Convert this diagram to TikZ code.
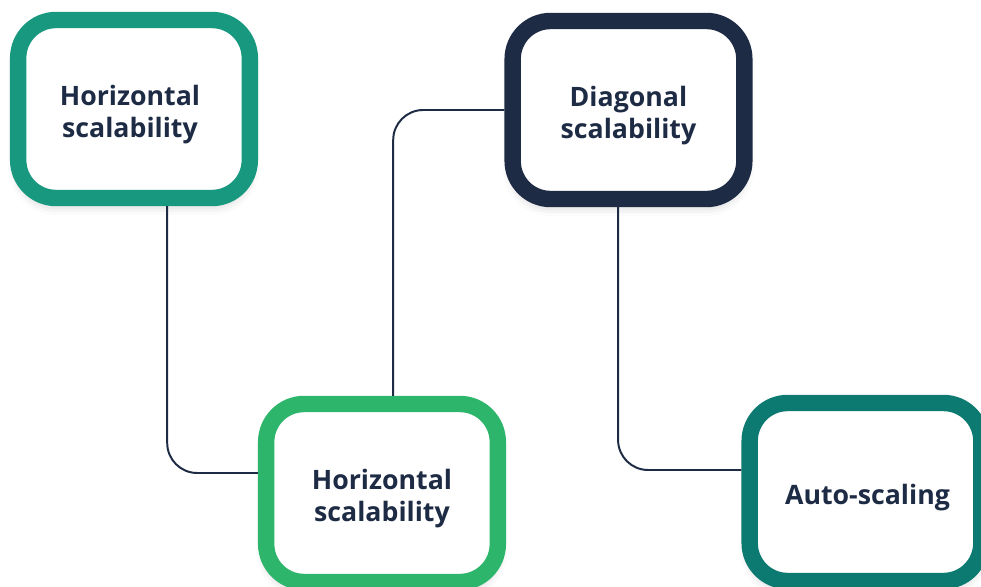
\documentclass[tikz,border=0pt]{standalone}
\usepackage{fontspec}
\setmainfont{Open Sans}
\usepackage{xcolor}
\usepackage{tikz}
\usetikzlibrary{positioning, shadows.blur}

\definecolor{navy}{HTML}{1E2B44}
\definecolor{tealgreen}{HTML}{17987F}
\definecolor{leafgreen}{HTML}{2DB56C}
\definecolor{deepteal}{HTML}{0D7A72}

\begin{document}
\begin{tikzpicture}[x=0.025cm, y=-0.025cm,
			card/.style={draw, fill=white, line width=0.41cm, rounded corners=0.95cm,
				minimum width=5.79cm, minimum height=4.45cm,
				blur shadow={shadow xshift=0pt, shadow yshift=-5pt, shadow blur radius=7pt, shadow opacity=22}},
			cardtext/.style={align=center, text=navy, yshift=-0.13cm,
				font=\fontsize{19}{22.8}\selectfont\bfseries},
			link/.style={draw=navy, line width=1.4pt, rounded corners=0.75cm}]
			
			\useasboundingbox (0,0) rectangle (981,586);
			\begin{scope}
			\clip (0,0) rectangle (981,586);
			
			% cards
			\node[card, draw=tealgreen, label={[cardtext, xshift=-0.1cm]center:Horizontal\\scalability}] (hor1) at (134,109) {};
			\node[card, draw=navy, label={[cardtext]center:Diagonal\\scalability}] (diag) at (628.5,110) {};
			\node[card, draw=leafgreen, label={[cardtext]center:Horizontal\\scalability}] (hor2) at (382,493) {};
			\node[card, draw=deepteal, label={[cardtext, xshift=0.05cm]center:Auto-scaling}] (auto) at (865.5,492) {};
			
			% links
			\draw[link] ([xshift=0.83cm]hor1.south) |- ([yshift=0.5cm]hor2.west);
			\draw[link] ([xshift=0.28cm]hor2.north) |- (diag.west);
			\draw[link] ([xshift=-0.26cm]diag.south) |- ([yshift=0.55cm]auto.west);
			
			\end{scope}
		\end{tikzpicture}
\end{document}
